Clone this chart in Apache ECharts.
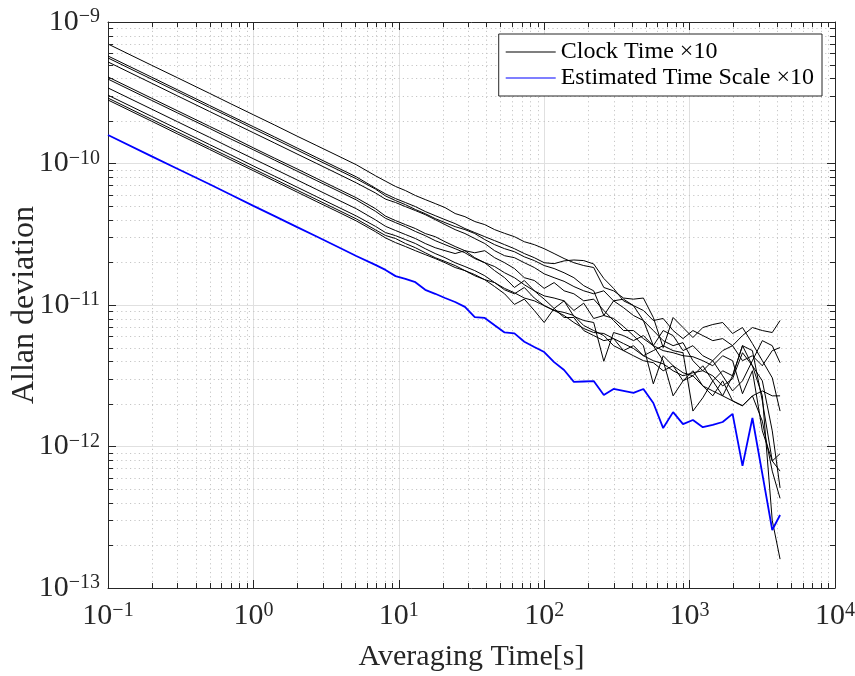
<!DOCTYPE html>
<html><head><meta charset="utf-8">
<script src="https://cdn.jsdelivr.net/npm/echarts@6/dist/echarts.min.js"></script>
<style>html,body{margin:0;padding:0;background:#fff}#c{width:855px;height:676px}</style>
</head><body><div id="c"></div>
<script>
const FONT = "'Liberation Serif','Times New Roman',serif";
// Averaging time tau [s]
const tau = [0.1,0.2,0.3,0.5,0.7,1,1.4,2,2.7,3.7,5.1,6.9,8.1,9.5,11.1,13,15.2,17.8,20.8,24.4,28.5,33.3,39,45.6,53.4,62.4,73,85.5,100,117,137,160,187,219,257,300,351,411,481,563,658,770,901,1054,1233,1443,1688,1975,2311,2704,3164,3702,4190];
// Allan deviation values, in units of 1e-12
const clockA = [699,494,404,313,264,221,187,156,134.5,115,98,82,75,68.8,64.4,59.4,55.6,52.1,48.8,44.3,42.1,38.9,37.0,34.1,32.1,30.4,28.0,26.7,25.0,23.1,21.3,19.9,19.0,18.4,13.3,12.6,11.2,11.0,11.2,8.16,5.0,8.16,6.93,5.89,6.93,7.28,7.52,6.29,6.93,5.34,4.04,3.06,1.78];
const clockB = [575,407,332,257,217,182,154,128.6,110.7,94.5,80.5,67,61,56.5,53.0,49.6,45.8,42.8,40.1,37.6,34.7,32.5,30.4,28.5,26.7,25.0,23.1,21.6,19.9,19.6,20.5,20.8,20.6,19.5,15.4,13.1,10.7,9.9,9.15,7.77,8.03,6.6,5.79,6.6,6.08,5.6,5.79,5.16,6.08,6.93,6.6,6.39,7.77];
const clockC = [557,394,322,249,211,176,149,124.5,107,91.6,78,66,59,54.7,51.2,47.3,44.2,40.8,38.2,35.8,34.1,32.0,29.0,26.7,25.0,23.8,21.9,20.6,19.0,18.1,16.9,15.6,13.7,12.6,8.43,10.7,11.0,9.9,7.77,5.16,6.6,6.08,4.76,5.16,4.38,4.04,4.76,5.16,4.04,4.38,3.72,4.76,5.0];
const clockD = [522,369,301,233,197,165,139.5,116.7,100.5,85.8,73,62,56,53.0,49.6,46.5,43.5,40.1,37.0,34.1,32.0,29.5,27.2,24.2,22.3,21.6,19.9,18.4,16.6,15.6,14.7,13.5,12.6,12.0,12.6,10.7,9.58,8.43,7.77,6.6,5.6,5.16,5.42,4.04,3.43,4.04,3.16,2.47,2.91,4.04,5.6,5.16,3.91];
const clockE = [409,289,236,183,155,129,109,91.5,78.7,67.2,57.3,48,42.5,39.5,37.0,34.7,32.0,30.4,28.0,25.9,24.2,23.4,24.2,21.6,19.9,18.1,15.6,14.9,13.1,14.4,12.6,12.0,10.7,11.0,9.15,7.77,6.6,6.6,5.79,5.16,4.76,4.6,4.38,4.31,4.04,3.72,4.38,4.04,2.36,3.43,1.29,0.79,0.89];
const clockF = [395,279,228,177,149,125,105.6,88.3,76,65,55.3,46,41,38.2,35.8,33.1,30.9,28.5,26.7,25.0,23.4,21.3,19.9,18.7,16.9,15.6,13.9,12.6,11.6,11.2,10.7,9.15,10.3,8.03,8.43,8.03,7.05,6.08,5.16,2.77,4.38,3.72,3.32,3.16,3.72,2.91,2.28,3.16,5.16,3.72,2.91,1.29,0.51];
const clockG = [342,242,197.5,153,129,108,91.4,76.5,65.8,56.2,47.9,40,36,33.6,31.5,29.5,27.2,25.4,24.2,23.1,24.2,21.6,19.9,17.5,15.6,13.3,14.9,12.6,11.0,9.45,10.7,8.3,7.77,7.52,4.0,6.39,6.08,5.6,6.08,5.16,4.04,2.28,2.91,3.43,2.68,2.28,2.91,2.1,1.94,2.28,1.51,0.67,0.43];
const clockH = [304,215,175.5,136,115,96,81.3,68,58.5,50,42.6,36,32.5,30.9,29.0,27.2,25.0,23.1,21.6,19.9,18.7,17.5,16.1,14.4,12.8,12.0,13.3,11.2,9.9,9.15,8.86,8.43,7.16,6.6,6.08,5.16,4.76,5.16,4.38,4.76,5.16,4.76,4.6,1.78,2.21,2.91,3.43,3.16,5.16,4.76,2.1,0.79,0.67];
const clockI = [290,205,167.4,129.7,109.6,91.7,77.5,64.8,55.8,47.7,40.6,34,31,29.5,27.2,25.4,23.4,21.6,20.3,19.0,17.5,16.1,15.1,13.5,12.0,10.1,11.0,9.15,7.52,9.45,8.16,8.16,6.6,6.08,5.6,5.79,5.34,4.93,4.38,4.04,3.84,3.43,3.16,3.32,3.43,3.16,2.68,3.01,4.6,3.72,2.28,0.30,0.16];
const clockJ = [281,198.7,162,125.7,106,88.9,75.1,62.8,54,46.2,39.3,33,29.8,27.6,25.9,24.2,22.7,21.3,19.9,18.4,17.5,16.4,15.1,14.4,13.1,12.2,11.2,10.7,9.9,9.15,8.43,7.52,6.82,6.39,6.29,5.79,4.76,4.38,4.04,3.91,3.43,3.72,2.91,3.16,2.68,2.47,2.28,2.1,1.94,2.28,2.47,2.28,2.28];
const timeScale = [159,112.4,91.9,71.3,60.2,50.2,42.5,35.5,30.6,26.1,22.2,19.2,17.7,16.0,15.3,14.5,12.8,12.0,11.2,10.5,9.7,8.2,8.1,7.2,6.4,6.3,5.5,5.05,4.65,3.95,3.47,2.86,2.88,2.9,2.31,2.55,2.47,2.39,2.55,2.03,1.35,1.75,1.44,1.54,1.37,1.42,1.49,1.70,0.73,1.59,0.64,0.257,0.328];
const UNIT_EXP = -12; // data unit = 10^-12
const clocks = [clockA, clockB, clockC, clockD, clockE, clockF, clockG, clockH, clockI, clockJ];
const clockName = 'Clock Time \u00d710';
const scaleName = 'Estimated Time Scale \u00d710';
const xLabel = 'Averaging Time[s]';
const yLabel = 'Allan deviation';

const AX = '#262626';
const chart = echarts.init(document.getElementById('c'), null, {renderer: 'canvas'});

function supLabel(exp) { return '{b|10}{e|' + String(exp).replace('-', '\u2212') + '}'; }
const rich = {
  b: {fontFamily: FONT, fontSize: 30, color: AX, lineHeight: 30, padding: [10, 0, 0, 0], verticalAlign: 'bottom'},
  e: {fontFamily: FONT, fontSize: 20, color: AX, lineHeight: 20, verticalAlign: 'top'}
};

const series = clocks.map(arr => ({
  name: clockName, type: 'line', symbol: 'none', smooth: false,
  lineStyle: {color: '#000', width: 1}, itemStyle: {color: '#000'},
  data: tau.map((t, i) => [t, arr[i]])
}));
series.push({
  name: scaleName, type: 'line', symbol: 'none',
  lineStyle: {color: '#0000ff', width: 1.8}, itemStyle: {color: '#0000ff'},
  data: tau.map((t, i) => [t, timeScale[i]]), z: 3
});

const option = {
  animation: false,
  backgroundColor: '#fff',
  grid: {left: 108, right: 20, top: 22, bottom: 88, containLabel: false, outerBoundsMode: 'none'},
  legend: {
    data: [clockName, scaleName], orient: 'vertical', right: 33, top: 34,
    align: 'left', icon: 'rect', itemWidth: 50, itemHeight: 1.2, itemGap: 2,
    padding: [6, 8, 6, 7], backgroundColor: '#fff', borderColor: AX, borderWidth: 1,
    selectedMode: false,
    textStyle: {fontFamily: FONT, fontSize: 24, color: '#000', lineHeight: 24}
  },
  xAxis: [{
    type: 'log', logBase: 10, min: 0.1, max: 10000, position: 'bottom',
    name: xLabel, nameLocation: 'middle', nameGap: 54, nameMoveOverlap: false,
    nameTextStyle: {fontFamily: FONT, fontSize: 30, color: AX},
    axisLine: {show: true, lineStyle: {color: AX, width: 1}},
    axisTick: {show: true, inside: true, length: 8, lineStyle: {color: AX}},
    axisLabel: {margin: 13, formatter: v => supLabel(Math.round(Math.log10(v))), rich: rich},
    splitLine: {show: true, lineStyle: {color: '#e0e0e0', width: 1}}
  }, {
    type: 'log', logBase: 10, min: 0.1, max: 10000, position: 'top',
    axisLine: {show: true, lineStyle: {color: AX, width: 1}},
    axisTick: {show: true, inside: true, length: 8, lineStyle: {color: AX}},
    axisLabel: {show: false}, splitLine: {show: false}
  }],
  yAxis: [{
    type: 'log', logBase: 10, min: 0.1, max: 1000, position: 'left',
    name: yLabel, nameLocation: 'middle', nameGap: 67, nameRotate: 90, nameMoveOverlap: false,
    nameTextStyle: {fontFamily: FONT, fontSize: 32, color: AX, lineHeight: 32},
    axisLine: {show: true, lineStyle: {color: AX, width: 1}},
    axisTick: {show: true, inside: true, length: 8, lineStyle: {color: AX}},
    axisLabel: {margin: 8, formatter: v => supLabel(Math.round(Math.log10(v)) + UNIT_EXP), rich: rich},
    splitLine: {show: true, lineStyle: {color: '#e0e0e0', width: 1}}
  }, {
    type: 'log', logBase: 10, min: 0.1, max: 1000, position: 'right',
    axisLine: {show: true, lineStyle: {color: AX, width: 1}},
    axisTick: {show: true, inside: true, length: 8, lineStyle: {color: AX}},
    axisLabel: {show: false}, splitLine: {show: false}
  }],
  series: series
};
chart.setOption(option);

// minor (2..9 per decade) dotted grid lines and minor ticks, positioned through the axes
function decorate() {
  const els = [];
  const xL = chart.convertToPixel({xAxisIndex: 0}, 0.1), xR = chart.convertToPixel({xAxisIndex: 0}, 10000);
  const yT = chart.convertToPixel({yAxisIndex: 0}, 1000), yB = chart.convertToPixel({yAxisIndex: 0}, 0.1);
  const dot = {stroke: '#c6c6c6', lineWidth: 1, lineDash: [1.2, 3.2]};
  const tk = {stroke: AX, lineWidth: 1};
  for (let d = -1; d <= 3; d++) for (let k = 2; k <= 9; k++) {
    const px = Math.round(chart.convertToPixel({xAxisIndex: 0}, k * Math.pow(10, d))) + 0.5;
    els.push({type: 'line', silent: true, z: 0, shape: {x1: px, y1: yT, x2: px, y2: yB}, style: dot});
    els.push({type: 'line', silent: true, z: 5, shape: {x1: px, y1: yB, x2: px, y2: yB - 5}, style: tk});
    els.push({type: 'line', silent: true, z: 5, shape: {x1: px, y1: yT, x2: px, y2: yT + 5}, style: tk});
  }
  for (let d = -1; d <= 2; d++) for (let k = 2; k <= 9; k++) {
    const py = Math.round(chart.convertToPixel({yAxisIndex: 0}, k * Math.pow(10, d))) + 0.5;
    els.push({type: 'line', silent: true, z: 0, shape: {x1: xL, y1: py, x2: xR, y2: py}, style: dot});
    els.push({type: 'line', silent: true, z: 5, shape: {x1: xL, y1: py, x2: xL + 5, y2: py}, style: tk});
    els.push({type: 'line', silent: true, z: 5, shape: {x1: xR, y1: py, x2: xR - 5, y2: py}, style: tk});
  }
  chart.setOption({graphic: {elements: els}});
}
decorate();
</script></body></html>
